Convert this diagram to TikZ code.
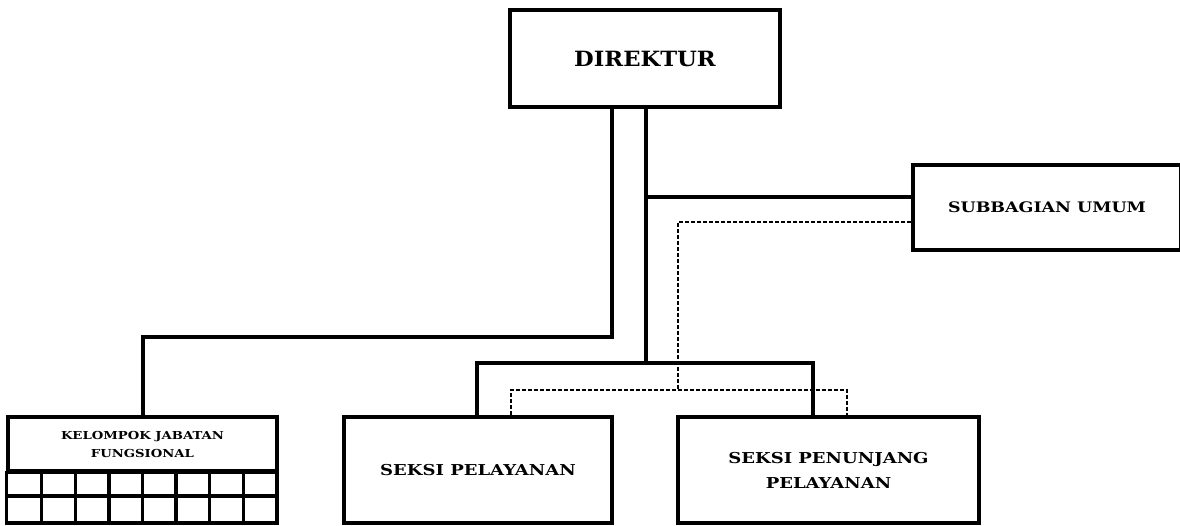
\documentclass[tikz,border=0pt]{standalone}
\usepackage{fontspec}
\setmainfont{DejaVu Serif}
\newfontfamily\wideserif[FakeStretch=1.2]{DejaVu Serif}
\newfontfamily\wideserifb[FakeStretch=1.08]{DejaVu Serif}
\begin{document}
\begin{tikzpicture}[x=1pt,y=-1pt,
  box/.style={draw,line width=3.3pt,rectangle,inner sep=0pt,align=center},
  conn/.style={line width=3.3pt},
  dconn/.style={line width=1.3pt,dash pattern=on 4pt off 2pt},
  fbig/.style={font=\wideserifb\fontsize{21}{26}\selectfont\bfseries},
  fmid/.style={font=\wideserif\fontsize{15}{25}\selectfont\bfseries},
  fsub/.style={font=\wideserif\fontsize{14.5}{20}\selectfont\bfseries},
  fsmall/.style={font=\wideserif\fontsize{11}{18}\selectfont\bfseries}]
\useasboundingbox (0,0) rectangle (1180,526);
% boxes
\node[box,fbig,minimum width=270pt,minimum height=97pt] (dir) at (645,58.5) {DIREKTUR};
\node[box,fsub,minimum width=268pt,minimum height=85pt] (sub) at (1047,207.5) {SUBBAGIAN UMUM};
\node[box,fmid,minimum width=268pt,minimum height=106pt] (sp) at (478,470) {SEKSI PELAYANAN};
\node[box,fmid,minimum width=301pt,minimum height=106pt] (spp) at (828.5,470) {SEKSI PENUNJANG\\PELAYANAN};
\node[box,fsmall,minimum width=269pt,minimum height=54pt] (kjf) at (142.5,444) {KELOMPOK JABATAN\\FUNGSIONAL};
% grid under KJF
\draw[line width=3.3pt] (kjf.south west) rectangle (277,523);
\draw[line width=3.3pt] (8,496) -- (277,496);
\foreach \i in {1,...,7} {
  \draw[line width=3.3pt] ({8+\i*33.625},471) -- ({8+\i*33.625},523);
}
% coordinates
\coordinate (j1) at (612,337);
\coordinate (k1) at (143,337);
\coordinate (j2) at (646,363);
\coordinate (bl) at (477,363);
\coordinate (br) at (813,363);
\coordinate (j3) at (646,197);
\coordinate (d1) at (678,222);
\coordinate (d2) at (678,390);
\coordinate (dl) at (511,390);
\coordinate (dr) at (847,390);
% dashed connectors
\draw[dconn] (sub.west |- d1) -- (d1) -- (d2);
\draw[dconn] (sp.north -| dl) -- (dl) -- (dr) -- (spp.north -| dr);
% solid connectors
\draw[conn] (dir.south -| j1) -- (j1) -- (k1) -- (kjf.north -| k1);
\draw[conn] (dir.south -| j2) -- (j2);
\draw[conn] (sp.north -| bl) -- (bl) -- (br) -- (spp.north -| br);
\draw[conn] (j3) -- (sub.west |- j3);
\end{tikzpicture}
\end{document}
